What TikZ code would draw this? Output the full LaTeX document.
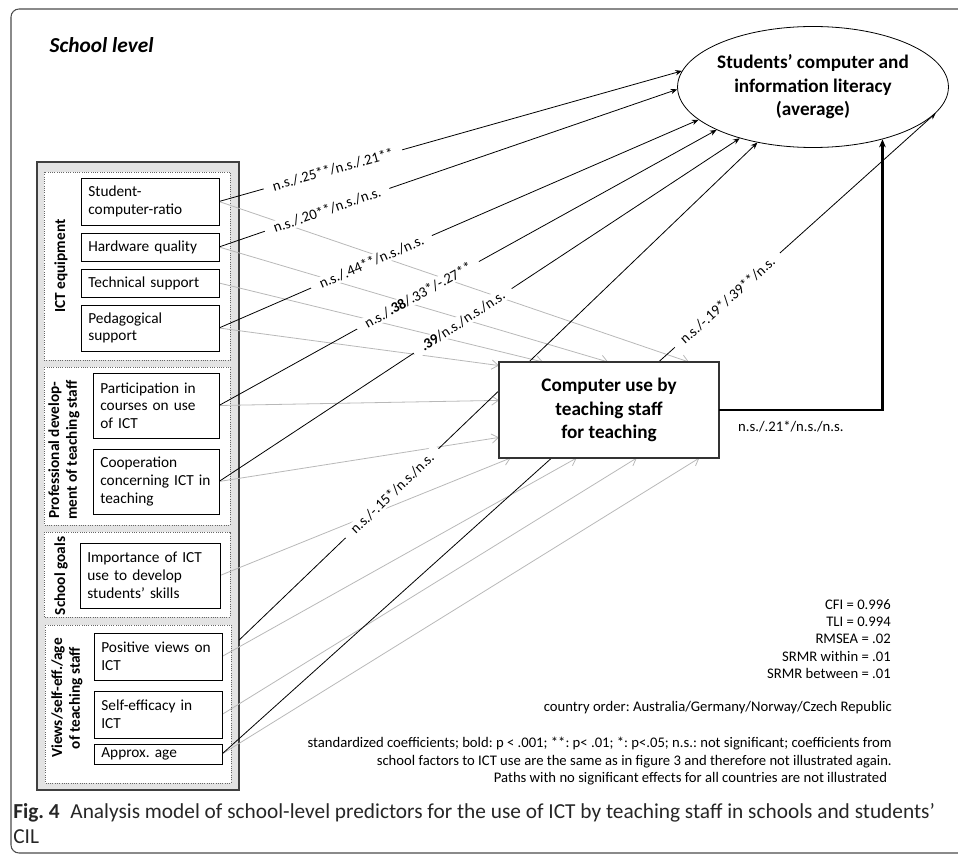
\documentclass[tikz,border=0pt]{standalone}
\usepackage{fontspec}
\setmainfont{Carlito}
\frenchspacing
\usetikzlibrary{arrows.meta,shapes.geometric,positioning}
\pgfdeclarelayer{bg}
\pgfsetlayers{bg,main}

\begin{document}
\begin{tikzpicture}[x=0.75pt,y=-0.75pt,
  box/.style={draw=black,fill=white,line width=0.7pt,inner xsep=5.5pt,inner ysep=0pt,outer sep=0pt,align=left,font=\fontsize{11.5}{13.3}\selectfont},
  grp/.style={draw=black!60,densely dotted,fill=white,line width=0.7pt},
  grplbl/.style={rotate=90,align=center,font=\bfseries\fontsize{11.5}{13.3}\selectfont},
  blk/.style={draw=black,line width=0.6pt,-{Stealth[length=5pt,width=4pt]}},
  gry/.style={draw=black!28,line width=0.6pt,-{Straight Barb[length=5pt,width=7pt]}},
  coef/.style={fill=white,sloped,inner xsep=7pt,inner ysep=1pt,font=\fontsize{11}{12}\selectfont},
  big/.style={align=center,font=\bfseries\fontsize{14.4}{17.6}\selectfont}]
  \useasboundingbox (0,0) rectangle (958,856);

  %rammen
  \draw[rounded corners=6pt,draw=black!70,line width=0.8pt] (11,9) rectangle (980,853);
  \node[anchor=west,font=\bfseries\itshape\fontsize{16}{19}\selectfont] (lvl) at (45,45) {School level};

  %outcome + mediator
  \node[big,draw,ellipse,fill=white,line width=0.6pt,minimum width=199.5pt,minimum height=90.75pt,inner sep=0pt] (cil) at (813,87)
    {Students’ computer and\\information literacy\\(average)};
  \node[big,draw=black!80,fill=white,line width=0.8pt,minimum width=165pt,minimum height=72pt,inner sep=0pt,outer sep=0pt] (cu) at (609,410)
    {Computer use by\\teaching staff\\for teaching};

  %predictor boxes
  \node[box,text width=92.5pt,minimum height=35.25pt] (scr) at (150,201.5) {Student-\\computer-ratio};
  \node[box,text width=92.5pt,minimum height=21pt] (hw) at (150,247) {Hardware quality};
  \node[box,text width=92.5pt,minimum height=21pt] (tech) at (150,283) {Technical support};
  \node[box,text width=92.5pt,minimum height=34.5pt] (ped) at (150,328) {Pedagogical\\support};
  \node[box,text width=83.5pt,minimum height=48.75pt] (part) at (156,405.5) {Participation in\\courses on use\\of ICT};
  \node[box,text width=83.5pt,minimum height=48.75pt] (coop) at (156,481.5) {Cooperation\\concerning ICT in\\teaching};
  \node[box,text width=94pt,minimum height=48.75pt] (imp) at (150,575.5) {Importance of ICT\\use to develop\\students’ skills};
  \node[box,text width=85pt,minimum height=35.25pt] (pos) at (158,656.5) {Positive views on\\ICT};
  \node[box,text width=85pt,minimum height=35.25pt] (self) at (158,714.5) {Self-efficacy in\\ICT};
  \node[box,text width=85pt,minimum height=15pt] (age) at (158,754) {Approx. age};

  \begin{pgfonlayer}{bg}
  %panel og grupper
  \draw[fill=black!11,draw=black!75,line width=1.1pt] (37,162) rectangle (239,790);
  \draw[grp] (44,172) rectangle (230,360);
  \draw[grp] (44,367) rectangle (230,525);
  \draw[grp] (44,532) rectangle (230,617);
  \draw[grp] (45,625) rectangle (231,783);

  %paths to ICT use (grey)
  \draw[gry] (scr.east) -- (cu.31.6);
  \draw[gry] (hw.east) -- (cu.91);
  \draw[gry] (tech.east) -- (cu.144);
  \draw[gry] (ped.east) -- (cu.158.6);
  \draw[gry] (part.east) -- (cu.175.3);
  \draw[gry] (coop.east) -- (cu.194.3);
  \draw[gry] (imp.east) -- (cu.206.6);
  \draw[gry] (pos.east) -- (cu.236.3);
  \draw[gry] (self.east) -- (cu.300.3);
  \draw[gry] (age.east) -- (cu.332.2);

  %paths to CIL (black)
  \path (pos.east) -- (cil.225.3) coordinate[pos=0.032] (pv);
  \draw[blk] (scr.east) -- node[coef,pos=0.246] (k1) {n.s./.25**/n.s./.21**} (cil.173.6);
  \draw[blk] (hw.east) -- node[coef,pos=0.236] (k2) {n.s./.20**/n.s./n.s.} (cil.181);
  \draw[blk] (ped.east) -- node[coef,pos=0.318] (k3) {n.s./.44**/n.s./n.s.} (cil.196.2);
  \draw[blk] (part.east) -- node[coef,pos=0.40] (k4) {n.s./\textbf{.38}/.33*/-.27**} (cil.204.1);
  \draw[blk] (coop.east) -- node[coef,pos=0.468] (k5) {\textbf{.39}/n.s./n.s./n.s.} (cil.215.6);
  \draw[blk] (pv) -- node[coef,pos=0.295] (k6) {n.s./-.15*/n.s./n.s.} (cil.225.3);
  \draw[blk] (age.east) -- node[coef,pos=0.708] (k7) {n.s./-.19*/.39**/n.s.} (cil.348.7);
  \end{pgfonlayer}

  %ICT use -> CIL
  \draw[line width=2.2pt,-{Stealth[length=6pt,width=5pt]}] (cu.east) -| node[pos=0.22,below=4pt,font=\fontsize{11}{12}\selectfont] (k8) {n.s./.21*/n.s./n.s.} (cil.323);

  %gruppe-navn
  \node[grplbl] (gict) at (61,266) {ICT equipment};
  \node[grplbl] (gprof) at (64,450) {Professional develop-\\ment of teaching staff};
  \node[grplbl] (ggoal) at (61,576) {School goals};
  \node[grplbl] (gview) at (67,698) {Views/self-eff./age\\of teaching staff};

  %fit + notes
  \node[anchor=north east,align=right,inner sep=0pt,font=\fontsize{11}{13.05}\selectfont] (fit) at (891,599)
    {CFI = 0.996\\TLI = 0.994\\RMSEA = .02\\SRMR within = .01\\SRMR between = .01};
  \node[anchor=east,inner sep=0pt,font=\fontsize{11}{13}\selectfont] (ord) at (892,708) {country order: Australia/Germany/Norway/Czech Republic};
  \node[anchor=north east,align=right,inner sep=0pt,font=\fontsize{11}{13.1}\selectfont] (note) at (892,737)
    {standardized coefficients; bold: p < .001; **: p< .01; *: p<.05; n.s.: not significant; coefficients from\\
     school factors to ICT use are the same as in figure 3 and therefore not illustrated again.\\
     Paths with no significant effects for all countries are not illustrated\hspace*{3.5pt}};

  %caption
  \node[anchor=base west,align=left,inner sep=0pt,text=black!85,font=\fontsize{16}{18.75}\selectfont] (cap) at (13,843)
    {\textbf{Fig. 4}\hspace{0.5em}Analysis model of school-level predictors for the use of ICT by teaching staff in schools and students’\\CIL};
\end{tikzpicture}
\end{document}
